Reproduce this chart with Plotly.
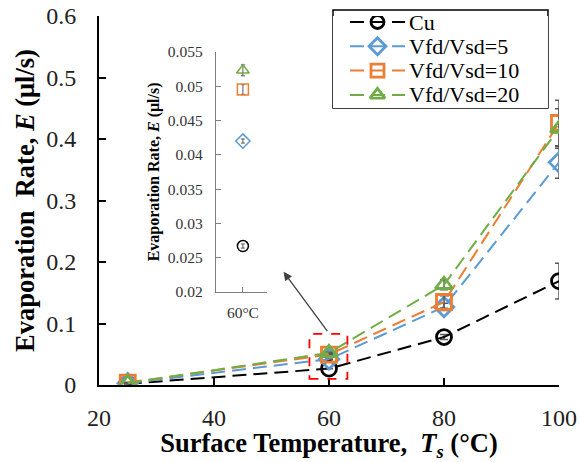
import plotly.graph_objects as go

# Surface temperature (°C)
temps = [25, 60, 80, 100]

# Evaporation rate (µl/s) for each surface
cu = [0.002, 0.0267, 0.078, 0.169]
vfd5 = [0.003, 0.042, 0.127, 0.362]
vfd10 = [0.004, 0.0495, 0.135, 0.426]
vfd20 = [0.003, 0.0523, 0.163, 0.417]

# Error bar half-widths
cu_err = [0.0005, 0.0003, 0.004, 0.029]
vfd5_err = [0.0005, 0.0003, 0.006, 0.026]
vfd10_err = [0.0005, 0.0007, 0.010, 0.037]
vfd20_err = [0.0005, 0.0008, 0.008, 0.032]

series_names = ["Cu", "Vfd/Vsd=5", "Vfd/Vsd=10", "Vfd/Vsd=20"]
series_vals = [cu, vfd5, vfd10, vfd20]
series_errs = [cu_err, vfd5_err, vfd10_err, vfd20_err]
colors = ["#000000", "#5B9BD5", "#ED7D31", "#70AD47"]
symbols = ["circle-open", "diamond-open", "square-open", "triangle-up-open"]

inset_label = ["60°C"]

FONT = "Liberation Serif"
ERR_COLOR = "#595959"
DASH = "14px,7px"
NBSP = "\u00a0"

fig = go.Figure()

for name, vals, errs, c, s in zip(series_names, series_vals, series_errs, colors, symbols):
    fig.add_trace(go.Scatter(
        x=temps, y=vals, name=name, mode="lines+markers", showlegend=False,
        line=dict(color=c, width=2, dash=DASH),
        marker=dict(symbol=s, size=15, color=c, line=dict(width=2.8, color=c)),
        error_y=dict(type="data", array=errs, visible=True, color=ERR_COLOR,
                     thickness=1.5, width=4),
        xaxis="x", yaxis="y",
    ))

# Inset: the 60 °C values on a zoomed scale
for name, vals, errs, c, s in zip(series_names, series_vals, series_errs, colors, symbols):
    fig.add_trace(go.Scatter(
        x=[0], y=[vals[1]], mode="markers", showlegend=False,
        marker=dict(symbol=s, size=11, color=c, line=dict(width=1.5, color=c)),
        error_y=dict(type="data", array=[errs[1]], visible=True, color=ERR_COLOR,
                     thickness=1, width=2),
        xaxis="x2", yaxis="y2",
    ))

# Legend key: a small axis in the upper right, one row per series (row index on y)
KEY_LINE = [17, 72]      # key line span along the key axis
KEY_MARK = 44.5          # marker position on the key line
KEY_TEXT = 74            # start of the label text
annotations = []
for i, (name, c, s) in enumerate(zip(series_names, colors, symbols)):
    fig.add_trace(go.Scatter(
        x=KEY_LINE, y=[i, i], mode="lines", showlegend=False, hoverinfo="skip",
        line=dict(color=c, width=2, dash=DASH),
        xaxis="x3", yaxis="y3",
    ))
    fig.add_trace(go.Scatter(
        x=[KEY_MARK], y=[i], mode="markers", showlegend=False, hoverinfo="skip",
        marker=dict(symbol=s, size=13, color=c, line=dict(width=2.8, color=c)),
        xaxis="x3", yaxis="y3",
    ))
    annotations.append(dict(
        x=KEY_TEXT, y=i, xref="x3", yref="y3", text=name, showarrow=False,
        xanchor="left", yanchor="middle",
        font=dict(family=FONT, size=22, color="black"),
    ))

annotations.append(dict(
    x=52.1, y=0.184, ax=59.9, ay=0.085, xref="x", yref="y",
    axref="x", ayref="y", text="", showarrow=True,
    arrowhead=2, arrowsize=1.3, arrowwidth=1.3, arrowcolor="#404040",
))

hidden = dict(visible=False, showgrid=False, zeroline=False, fixedrange=True)

fig.update_layout(
    width=580, height=462,
    margin=dict(l=99, r=21, t=16, b=77),
    paper_bgcolor="white", plot_bgcolor="white",
    font=dict(family=FONT, color="#222222"),
    showlegend=False,
    xaxis=dict(
        domain=[0, 1], range=[20, 100], tickvals=[20, 40, 60, 80, 100],
        showline=True, linecolor="black", linewidth=2, automargin=False,
        ticks="inside", ticklen=7, tickwidth=1.5, tickcolor="black",
        showgrid=False, zeroline=False, ticklabelstandoff=10,
        tickfont=dict(family=FONT, size=24, color="#222222"),
        title=dict(text=f"<b>Surface Temperature,{NBSP} <i>T<sub>s</sub></i> (°C)</b>",
                   font=dict(family=FONT, size=26.5, color="black"), standoff=4),
    ),
    yaxis=dict(
        domain=[0, 1], range=[0, 0.6], dtick=0.1,
        showline=True, linecolor="black", linewidth=2, automargin=False,
        ticks="inside", ticklen=7, tickwidth=1.5, tickcolor="black",
        showgrid=False, zeroline=False, ticklabelstandoff=16,
        tickfont=dict(family=FONT, size=24, color="#222222"),
        title=dict(text=f"<b>Evaporation{NBSP} Rate, <i>E</i> (μl/s)</b>",
                   font=dict(family=FONT, size=26.5, color="black"), standoff=4),
    ),
    xaxis2=dict(
        domain=[0.254, 0.365], anchor="y2", range=[-1.06, 0.94],
        tickvals=[0], ticktext=inset_label, automargin=False,
        showline=True, linecolor="#7f7f7f", linewidth=1,
        ticks="inside", ticklen=5, tickcolor="#7f7f7f",
        showgrid=False, zeroline=False, ticklabelstandoff=6,
        tickfont=dict(family=FONT, size=15.5, color="#333333"),
    ),
    yaxis2=dict(
        domain=[0.252, 0.903], anchor="x2", range=[0.02, 0.055],
        tickvals=[0.02, 0.025, 0.03, 0.035, 0.04, 0.045, 0.05, 0.055],
        ticktext=["0.02", "0.025", "0.03", "0.035", "0.04", "0.045", "0.05", "0.055"],
        showline=True, linecolor="#7f7f7f", linewidth=1, automargin=False,
        ticks="inside", ticklen=5, tickcolor="#7f7f7f",
        showgrid=False, zeroline=False, ticklabelstandoff=9,
        tickfont=dict(family=FONT, size=15.5, color="#333333"),
        title=dict(text="<b>Evaporation Rate, <i>E</i> (μl/s)</b>",
                   font=dict(family=FONT, size=16, color="black"), standoff=4),
    ),
    xaxis3=dict(domain=[0.5087, 0.976], anchor="y3", range=[0, 215], **hidden),
    yaxis3=dict(domain=[0.7507, 1.0], anchor="x3", range=[3.539, -0.247], **hidden),
    shapes=[
        dict(type="rect", xref="x", yref="y", x0=56.6, x1=63.2, y0=0.010, y1=0.083,
             line=dict(color="#FF0000", width=1.8, dash="dash"), fillcolor="rgba(0,0,0,0)"),
        dict(type="rect", xref="paper", yref="paper", x0=0.5087, x1=0.976,
             y0=0.7507, y1=1.0163,
             line=dict(color="black", width=1.5), fillcolor="white", layer="below"),
    ],
    annotations=annotations,
)

fig.write_html("out.html")
